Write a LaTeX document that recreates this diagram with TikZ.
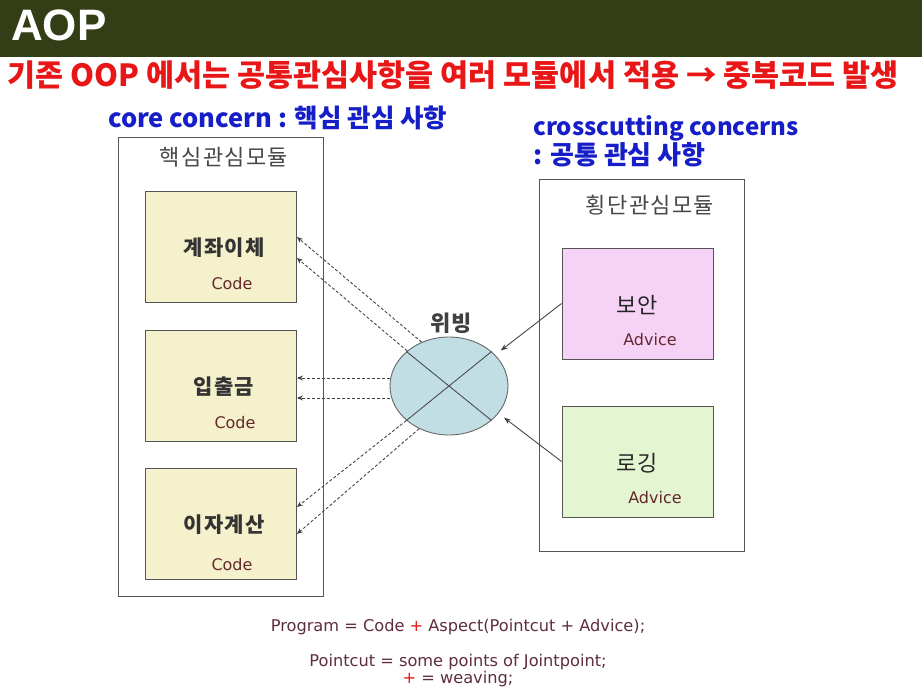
\documentclass[tikz,border=0pt]{standalone}
\usepackage{fontspec}
\usetikzlibrary{shapes.geometric,arrows.meta,calc}
\setmainfont{Noto Sans CJK KR}
\newfontfamily\kr{Noto Sans CJK KR}
\newfontfamily\krsp[LetterSpace=6]{Noto Sans CJK KR}
\newfontfamily\krlab[LetterSpace=6]{Noto Sans CJK KR}
\newfontfamily\arialb{Liberation Sans}
\newfontfamily\dvs{DejaVu Sans}
\definecolor{hdr}{RGB}{52,62,22}
\definecolor{redt}{RGB}{232,22,22}
\definecolor{bluet}{RGB}{22,30,200}
\definecolor{yel}{RGB}{245,241,204}
\definecolor{pnk}{RGB}{247,210,247}
\definecolor{grn}{RGB}{228,245,210}
\definecolor{ell}{RGB}{192,222,228}
\definecolor{bord}{RGB}{85,85,85}
\definecolor{codec}{RGB}{100,40,45}
\definecolor{formc}{RGB}{95,45,65}
\tikzset{
  modbox/.style={draw=bord, line width=0.9pt, minimum width=205, minimum height=#1, inner sep=0},
  unitbox/.style={draw=bord, line width=0.9pt, fill=#1, minimum width=151, minimum height=111, inner sep=0},
  unitlbl/.style={font=\krlab\bfseries\fontsize{21}{24}\selectfont, text=black!80},
  advlbl/.style={font=\kr\fontsize{22}{24}\selectfont, text=black!85},
  codelbl/.style={font=\dvs\fontsize{16}{18}\selectfont, text=codec},
  modtitle/.style={font=\krsp\fontsize{22}{24}\selectfont, text=black!72},
  weave/.style={densely dashed, draw=black!75, line width=0.85pt, -{Stealth[length=6pt,width=5pt]}},
  advarrow/.style={draw=black!75, line width=0.85pt, -{Stealth[length=7pt,width=5pt]}, shorten >=7pt},
  formula/.style={font=\dvs\fontsize{16.2}{18}\selectfont, text=formc},
  bluehead/.style={anchor=west, text=bluet, inner sep=0}
}
\begin{document}
\begin{tikzpicture}[x=1pt,y=-1pt]
\useasboundingbox (0,0) rectangle (922,690);
\fill[white] (0,0) rectangle (922,690);
\fill[hdr] (0,0) rectangle (922,57);
\node[anchor=west, text=white, font=\arialb\bfseries\fontsize{44}{48}\selectfont, inner sep=0] (aop) at (11,25) {AOP};
\node[anchor=west, text=redt, font=\kr\bfseries\fontsize{30.5}{33}\selectfont, inner sep=0] (intro) at (7,75) {기존 OOP 에서는 공통관심사항을 여러 모듈에서 적용 → 중복코드 발생};
\node[bluehead, font=\kr\bfseries\fontsize{25.5}{28}\selectfont] (core) at (108,118) {core concern : 핵심 관심 사항};
\node[bluehead, font=\kr\bfseries\fontsize{24}{28}\selectfont] (cross1) at (533,128) {crosscutting concerns};
\node[bluehead, font=\kr\bfseries\fontsize{26}{28}\selectfont] (cross2) at (533,155) {: 공통 관심 사항};

% left module
\node[modbox=459] (lm) at (220.5,366.5) {};
\node[modtitle] (lmt) at (224,157) {핵심관심모듈};
\node[unitbox=yel] (b1) at (221,247) {};
\node[unitbox=yel] (b2) at (221,385.5) {};
\node[unitbox=yel] (b3) at (221,523.5) {};
\node[unitlbl] (b1t) at (224,248) {계좌이체};
\node[codelbl] (b1c) at (232,284) {Code};
\node[unitlbl] (b2t) at (224,387) {입출금};
\node[codelbl] (b2c) at (235,423) {Code};
\node[unitlbl] (b3t) at (224,525) {이자계산};
\node[codelbl] (b3c) at (232,565) {Code};

% right module
\node[modbox=372] (rm) at (641.5,365) {};
\node[modtitle] (rmt) at (650,205) {횡단관심모듈};
\node[unitbox=pnk] (s) at (637.5,303.5) {};
\node[unitbox=grn] (l) at (637.5,461.5) {};
\node[advlbl] (st) at (637,305) {보안};
\node[codelbl] (sc) at (650,340) {Advice};
\node[advlbl] (lt) at (637,463) {로깅};
\node[codelbl] (lc) at (655,498) {Advice};

% weaving ellipse
\node[ellipse, draw=black!60, line width=0.9pt, fill=ell, minimum width=118, minimum height=98, inner sep=0] (w) at (449,386) {};
\draw[draw=black!70, line width=0.9pt] (w.141) -- (w.321);
\draw[draw=black!70, line width=0.9pt] (w.39) -- (w.219);
\node[font=\krlab\bfseries\fontsize{22}{24}\selectfont, text=black!75] (wt) at (451,323) {위빙};

% weaving arrows
\coordinate (t1a) at ($(b1.east)+(0,-10)$);
\coordinate (t1b) at ($(b1.east)+(0,11)$);
\coordinate (t2a) at ($(b2.east)+(0,-7.5)$);
\coordinate (t2b) at ($(b2.east)+(0,12.5)$);
\coordinate (t3a) at ($(b3.east)+(0,-16.5)$);
\coordinate (t3b) at ($(b3.east)+(0,10.5)$);
\draw[weave] (w.122) -- (t1a);
\draw[weave] (w.140) -- (t1b);
\draw[weave] (w.west |- t2a) -- (t2a);
\draw[weave] (w.west |- t2b) -- (t2b);
\draw[weave] (w.219) -- (t3a);
\draw[weave] (w.235) -- (t3b);

% advice arrows
\draw[advarrow] (s.west) -- (w.34);
\draw[advarrow] (l.west) -- (w.331);

% formulas
\node[formula] (f1) at (458,627) {Program = Code \textcolor{redt}{+} Aspect(Pointcut + Advice);};
\node[formula] (f2) at (458,662) {Pointcut = some points of Jointpoint;};
\node[formula] (f3) at (458,679) {\textcolor{redt}{+} = weaving;};
\end{tikzpicture}
\end{document}
